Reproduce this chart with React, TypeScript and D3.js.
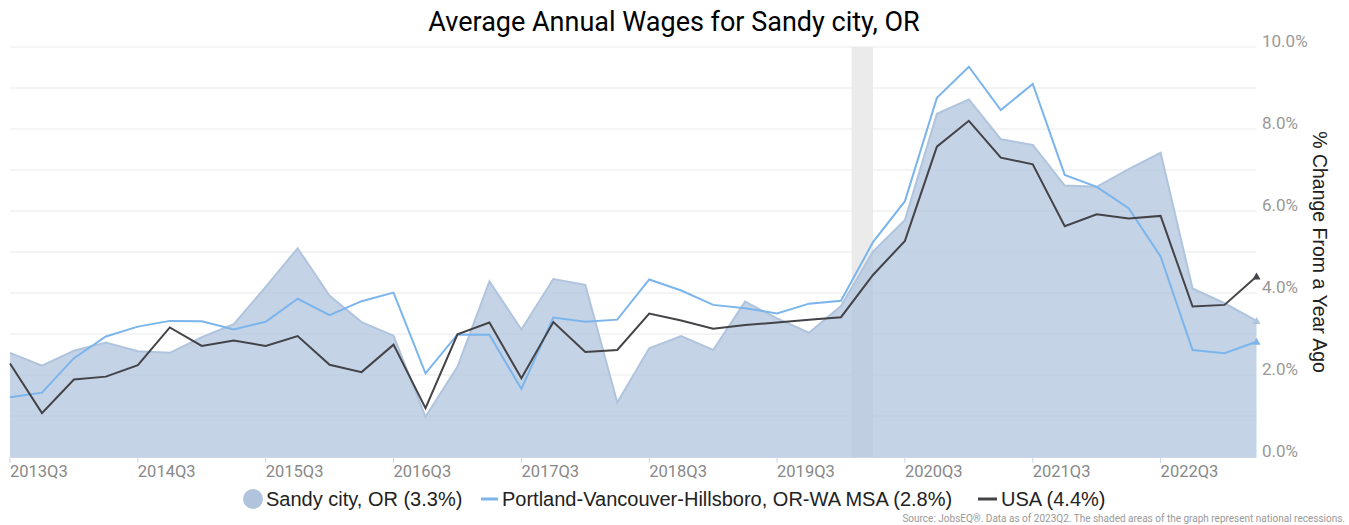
import React from "react";
import * as d3 from "d3";

const quarters = [
  "2013Q3", "2013Q4", "2014Q1", "2014Q2", "2014Q3", "2014Q4", "2015Q1", "2015Q2",
  "2015Q3", "2015Q4", "2016Q1", "2016Q2", "2016Q3", "2016Q4", "2017Q1", "2017Q2",
  "2017Q3", "2017Q4", "2018Q1", "2018Q2", "2018Q3", "2018Q4", "2019Q1", "2019Q2",
  "2019Q3", "2019Q4", "2020Q1", "2020Q2", "2020Q3", "2020Q4", "2021Q1", "2021Q2",
  "2021Q3", "2021Q4", "2022Q1", "2022Q2", "2022Q3", "2022Q4", "2023Q1", "2023Q2",
];

// % change from a year ago
const sandy = [
  2.54, 2.23, 2.59, 2.79, 2.58, 2.54, 2.92, 3.24, 4.15, 5.09,
  3.93, 3.29, 2.96, 0.98, 2.2, 4.28, 3.11, 4.34, 4.2, 1.33,
  2.65, 2.95, 2.61, 3.79, 3.38, 3.03, 3.68, 5.01, 5.78, 8.37,
  8.72, 7.75, 7.61, 6.62, 6.59, 7.02, 7.42, 4.11, 3.75, 3.32,
];
const portland = [
  1.46, 1.57, 2.41, 2.94, 3.18, 3.32, 3.31, 3.11, 3.3, 3.86,
  3.46, 3.8, 4.01, 2.04, 2.99, 2.98, 1.66, 3.4, 3.3, 3.35,
  4.33, 4.06, 3.71, 3.63, 3.5, 3.74, 3.81, 5.24, 6.24, 8.76,
  9.52, 8.46, 9.1, 6.88, 6.59, 6.07, 4.89, 2.61, 2.53, 2.81,
];
const usa = [
  2.28, 1.07, 1.89, 1.96, 2.24, 3.16, 2.71, 2.84, 2.71, 2.95,
  2.25, 2.07, 2.74, 1.19, 2.99, 3.28, 1.92, 3.29, 2.56, 2.61,
  3.5, 3.33, 3.13, 3.22, 3.28, 3.35, 3.41, 4.44, 5.27, 7.57,
  8.2, 7.3, 7.14, 5.63, 5.92, 5.82, 5.88, 3.67, 3.71, 4.4,
];

const xTickLabels = [
  "2013Q3", "2014Q3", "2015Q3", "2016Q3", "2017Q3",
  "2018Q3", "2019Q3", "2020Q3", "2021Q3", "2022Q3",
];
const yTicks = [0, 2, 4, 6, 8, 10];
const yGrid = d3.range(1, 11);
// recession: Feb 2020 .. Apr 2020, in quarter-index units
const recession = [26 + 1 / 3, 27];

const W = 1349;
const H = 525;
const left = 10;
const right = 1256.5;
const top = 47;
const bottom = 457;

const fontRoboto = "Roboto, sans-serif";
const fontLegend = "'Liberation Sans', Arial, sans-serif";

export default function App() {
  const x = d3.scaleLinear().domain([0, quarters.length - 1]).range([left, right]);
  const y = d3.scaleLinear().domain([0, 10]).range([bottom, top]);

  const line = d3
    .line<number>()
    .x((_, i) => x(i))
    .y((d) => y(d));
  const area = d3
    .area<number>()
    .x((_, i) => x(i))
    .y0(y(0))
    .y1((d) => y(d));

  const last = quarters.length - 1;
  const tri = (cx: number, cy: number) =>
    `M${cx},${cy - 4}L${cx + 4},${cy + 3}L${cx - 4},${cy + 3}Z`;

  return (
    <svg
      width={W}
      height={H}
      style={{ position: "absolute", left: 0, top: 0, background: "#fff" }}
    >
      <text
        x={674}
        y={31}
        textAnchor="middle"
        fontFamily={fontRoboto}
        fontSize={27}
        fill="#000"
      >
        Average Annual Wages for Sandy city, OR
      </text>

      {/* grid */}
      {yGrid.map((v) => (
        <line
          key={v}
          x1={left}
          x2={right}
          y1={y(v)}
          y2={y(v)}
          stroke="#f0f0f0"
          strokeWidth={1.5}
        />
      ))}

      {/* recession band */}
      <rect
        x={x(recession[0])}
        y={top}
        width={x(recession[1]) - x(recession[0])}
        height={bottom - top}
        fill="#ebebeb"
      />

      <path d={area(sandy) ?? ""} fill="#b0c4de" fillOpacity={0.75} />
      <path d={line(sandy) ?? ""} fill="none" stroke="#b0c4de" strokeWidth={2} />
      <path d={tri(x(last), y(sandy[last]))} fill="#b0c4de" />

      <path d={line(portland) ?? ""} fill="none" stroke="#7cb5ec" strokeWidth={2} />
      <path d={tri(x(last), y(portland[last]))} fill="#7cb5ec" />

      <path d={line(usa) ?? ""} fill="none" stroke="#434348" strokeWidth={2} />
      <path d={tri(x(last), y(usa[last]))} fill="#434348" />

      {/* x axis */}
      <line x1={left} x2={right} y1={bottom + 0.5} y2={bottom + 0.5} stroke="#ccd6eb" />
      {xTickLabels.map((q) => {
        const xi = x(quarters.indexOf(q));
        return (
          <g key={q}>
            <line x1={xi} x2={xi} y1={bottom} y2={bottom + 6} stroke="#ccd6eb" />
            <text
              x={xi}
              y={477}
              fontFamily={fontRoboto}
              fontSize={16.5}
              fill="#888"
            >
              {q}
            </text>
          </g>
        );
      })}

      {/* y axis labels (right) */}
      {yTicks.map((v) => (
        <text
          key={v}
          x={1262}
          y={y(v) - 0.5}
          fontFamily={fontRoboto}
          fontSize={17}
          fill="#999"
        >
          {d3.format(".1f")(v)}%
        </text>
      ))}
      <text
        transform={`translate(1313,252) rotate(90)`}
        textAnchor="middle"
        fontFamily={fontLegend}
        fontSize={19.5}
        fill="#222"
      >
        % Change From a Year Ago
      </text>

      {/* legend */}
      <g fontFamily={fontLegend} fontSize={20} fill="#222">
        <circle cx={253} cy={499} r={10} fill="#b0c4de" />
        <text x={266} y={506}>Sandy city, OR (3.3%)</text>
        <line x1={481} x2={498} y1={499} y2={499} stroke="#7cb5ec" strokeWidth={3} />
        <text x={502} y={506}>Portland-Vancouver-Hillsboro, OR-WA MSA (2.8%)</text>
        <line x1={978} x2={997} y1={499} y2={499} stroke="#434348" strokeWidth={3} />
        <text x={1001} y={506}>USA (4.4%)</text>
      </g>

      <text
        x={1345}
        y={522}
        textAnchor="end"
        fontFamily={fontRoboto}
        fontSize={10}
        fill="#999"
      >
        Source: JobsEQ®. Data as of 2023Q2. The shaded areas of the graph represent national recessions.
      </text>
    </svg>
  );
}
